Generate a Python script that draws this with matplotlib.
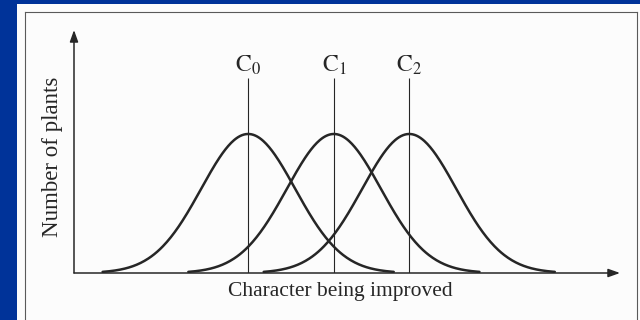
import numpy as np
import matplotlib.pyplot as plt
from matplotlib.patches import Rectangle
from matplotlib.lines import Line2D

# Mean character value of each generation and the spread of each population
labels = [r"$\mathrm{C}_0$", r"$\mathrm{C}_1$", r"$\mathrm{C}_2$"]
means = [31.9, 47.6, 61.4]
spread = 8.6
peak = 1.0
marker_top = 1.40

plt.rcParams["mathtext.fontset"] = "stix"
ink = "#262626"
W, H = 640, 320

fig = plt.figure(figsize=(6.4, 3.2), dpi=100, facecolor="#003399")

# Scanned page and its frame
fig.patches.append(Rectangle((17 / W, 0), 1 - 17 / W, 1 - 4 / H,
                             transform=fig.transFigure, facecolor="#fcfcfc",
                             edgecolor="none", zorder=-2))
frame = dict(transform=fig.transFigure, color="#5a5a5a", lw=0.8, zorder=-1)
fig.lines.append(Line2D([25 / W, 25 / W], [0, 1 - 12 / H], **frame))
fig.lines.append(Line2D([25 / W, 637 / W], [1 - 12 / H, 1 - 12 / H], **frame))
fig.lines.append(Line2D([637 / W, 637 / W], [0, 1 - 12 / H], **frame))

ax = fig.add_axes([74 / W, 47 / H, 546 / W, 243 / H])
ax.set_zorder(2)
ax.set_xlim(0, 100)
ax.set_ylim(0, 1.748)
ax.axis("off")

# Axes drawn as arrows
arrow = dict(arrowstyle="-|>,head_length=0.7,head_width=0.25", color=ink, lw=1.1,
             shrinkA=0, shrinkB=0)
ax.annotate("", xy=(0, 1), xytext=(0, 0), xycoords="axes fraction",
            arrowprops=arrow)
ax.annotate("", xy=(1, 0), xytext=(0, 0), xycoords="axes fraction",
            arrowprops=arrow)

for lab, m in zip(labels, means):
    x = np.linspace(m - 3.1 * spread, m + 3.1 * spread, 300)
    y = peak * np.exp(-0.5 * ((x - m) / spread) ** 2)
    ax.plot(x, y, color=ink, lw=1.8, solid_capstyle="round")
    ax.vlines(m, 0, marker_top, color=ink, lw=0.8)
    ax.text(m, marker_top + 0.095, lab, ha="center", va="center",
            fontsize=17, color=ink)

ax.text(0.487, -0.078, "Character being improved", transform=ax.transAxes,
        ha="center", va="center", fontsize=15.5, color=ink,
        family="Liberation Serif")
ax.text(-0.040, 0.477, "Number of plants", transform=ax.transAxes,
        ha="center", va="center", rotation=90, fontsize=16.5, color=ink,
        family="Liberation Serif")

fig.savefig("out.png", dpi=100, facecolor=fig.get_facecolor())
